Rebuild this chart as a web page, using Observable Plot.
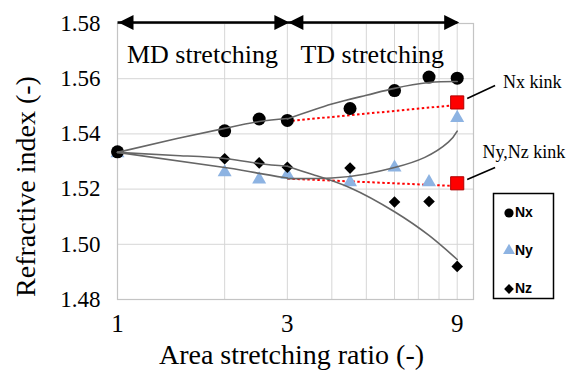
<!DOCTYPE html>
<html><head><meta charset="utf-8">
<script src="https://cdn.jsdelivr.net/npm/d3@7"></script>
<script src="https://cdn.jsdelivr.net/npm/@observablehq/plot@0.6"></script>
<style>body{margin:0;background:#fff}</style>
</head><body><div id="chart"></div>
<script>
// ---- data ----
const ratio = [1, 2, 2.5, 3, 4.5, 6, 7.5, 9];
const nx = [1.5335, 1.5411, 1.5454, 1.5449, 1.5492, 1.5557, 1.5606, 1.5602];
const ny = [1.5330, 1.5261, 1.5235, 1.5252, 1.5225, 1.5278, 1.5225, 1.5458];
const nz = [1.5335, 1.5310, 1.5295, 1.5279, 1.5276, 1.5153, 1.5155, 1.4920];

// trend curves (as drawn): MD part (1–3) and TD part (3–9)
const nxMdX = [1, 1.47, 2, 2.5, 3];
const nxMdY = [1.5333, 1.5383, 1.5420, 1.5445, 1.5456];
const nxTdX = [3, 4, 5, 6, 7.5, 9];
const nxTdY = [1.5454, 1.5508, 1.5540, 1.5565, 1.5586, 1.5590];
const nyMdX = [1, 2, 2.5, 3];
const nyMdY = [1.5333, 1.5278, 1.5257, 1.5240];
const nyTdX = [3, 4, 5, 6, 7.3, 8.5, 9];
const nyTdY = [1.5238, 1.5240, 1.5255, 1.5278, 1.5315, 1.5370, 1.5410];
const nzMdX = [1, 1.5, 2, 2.5, 3];
const nzMdY = [1.5333, 1.5321, 1.5311, 1.5293, 1.5283];
const nzTdX = [3, 3.55, 4.5, 6, 7.5, 9];
const nzTdY = [1.5283, 1.5252, 1.5205, 1.5118, 1.5032, 1.4945];

// kinks
const kinkLabels = ["Nx kink", "Ny,Nz kink"];
const kinkX = [9, 9];
const kinkY = [1.5514, 1.5221];
const kinkFromX = [3, 3];
const kinkFromY = [1.5446, 1.5238];
const kinkToY = [1.5505, 1.5211];
const leaderX1 = [9.6, 9.6], leaderY1 = [1.5528, 1.5235];
const leaderX2 = [11.5, 11.5], leaderY2 = [1.5575, 1.5278];
const kinkLabelX = [12.1, 10.6], kinkLabelY = [1.5589, 1.5334];

// regions
const regionLabels = ["MD stretching", "TD stretching"];
const regionFrom = [1, 3];
const regionTo = [3, 9];
const regionMid = [1.732, 5.196];

// axes
const xTicks = [1, 3, 9];
const xGrid = [2, 3, 4, 5, 6, 7, 8, 9];
const yTicks = [1.48, 1.50, 1.52, 1.54, 1.56, 1.58];
const yGrid = [1.50, 1.52, 1.54, 1.56];
const xLabel = "Area stretching ratio (-)";
const yLabel = "Refractive index (-)";
const legendLabels = ["Nx", "Ny", "Nz"];

// ---- build ----
const serif = "Liberation Serif";
const sans = "Liberation Sans";
const pts = (ys) => ratio.map((x, i) => ({x, y: ys[i]}));
const seg = (xs, ys, s) => xs.map((x, i) => ({x, y: ys[i], s}));
const trends = [
  ...seg(nxMdX, nxMdY, "nxMD"), ...seg(nxTdX, nxTdY, "nxTD"),
  ...seg(nyMdX, nyMdY, "nyMD"), ...seg(nyTdX, nyTdY, "nyTD"),
  ...seg(nzMdX, nzMdY, "nzMD"), ...seg(nzTdX, nzTdY, "nzTD")
];
const kinks = kinkLabels.map((label, i) => ({
  label, x: kinkX[i], y: kinkY[i], fx: kinkFromX[i], fy: kinkFromY[i], ty: kinkToY[i],
  lx1: leaderX1[i], ly1: leaderY1[i], lx2: leaderX2[i], ly2: leaderY2[i],
  tx: kinkLabelX[i], tyl: kinkLabelY[i]
}));
const regions = regionLabels.map((label, i) => ({label, from: regionFrom[i], to: regionTo[i], mid: regionMid[i]}));

const headR = {draw(ctx) { ctx.moveTo(0, 0); ctx.lineTo(-15, -7.5); ctx.lineTo(-15, 7.5); ctx.closePath(); }};
const headL = {draw(ctx) { ctx.moveTo(0, 0); ctx.lineTo(15, -7.5); ctx.lineTo(15, 7.5); ctx.closePath(); }};

const legendSym = ["circle", "triangle", "diamond2"];
const legendFill = ["black", "#8db3e2", "black"];
const legendR = [4.6, 4.4, 4.4];
const legendDy = [189.5, 227, 265.5];

const legendMarks = legendLabels.flatMap((lab, i) => [
  Plot.dot([lab], {frameAnchor: "top-right", dx: 35.5, dy: legendDy[i], symbol: legendSym[i], fill: legendFill[i], r: legendR[i]}),
  Plot.text([lab], {frameAnchor: "top-right", dx: 41.5, dy: legendDy[i], text: d => d, textAnchor: "start", lineAnchor: "middle",
    fontFamily: sans, fontWeight: "bold", fontSize: 14, fill: "black"})
]);

const chart = Plot.plot({
  width: 576, height: 378,
  marginLeft: 117, marginRight: 103, marginTop: 23, marginBottom: 79,
  style: {fontFamily: serif, background: "white", color: "black"},
  x: {type: "log", domain: [1, 10]},
  y: {domain: [1.48, 1.58]},
  marks: [
    Plot.gridX(xGrid, {stroke: "#d6d6d6", strokeOpacity: 1, strokeWidth: 1}),
    Plot.gridY(yGrid, {stroke: "#d6d6d6", strokeOpacity: 1, strokeWidth: 1}),
    Plot.frame({stroke: "#c4c4c4", strokeWidth: 1.2}),
    Plot.axisX({ticks: xTicks, tickFormat: d => String(d), tickSize: 0, tickPadding: 15, fontSize: 25, fontFamily: serif, label: null, fill: "black"}),
    Plot.axisY({ticks: yTicks, tickFormat: d3.format(".2f"), tickSize: 0, tickPadding: 17, fontSize: 23, fontFamily: serif, label: null, fill: "black"}),
    // red dotted kink lines
    Plot.link(kinks, {x1: "fx", y1: "fy", x2: "x", y2: "ty", stroke: "#ff0000", strokeWidth: 2, strokeDasharray: "2.5,2.5"}),
    // data points
    Plot.dot(pts(ny), {x: "x", y: "y", symbol: "triangle", r: 5.2, fill: "#8db3e2"}),
    Plot.dot(pts(nz), {x: "x", y: "y", symbol: "diamond2", r: 5.2, fill: "black"}),
    Plot.dot(pts(nx), {x: "x", y: "y", symbol: "circle", r: 6.5, fill: "black"}),
    // trend curves
    Plot.line(trends, {x: "x", y: "y", z: "s", curve: "natural", stroke: "#666", strokeWidth: 1.6}),
    // kink squares
    Plot.dot(kinks, {x: "x", y: "y", symbol: "square", r: 7.4, fill: "#ff0000", stroke: "#b00000", strokeWidth: 1}),
    // leaders + labels
    Plot.link(kinks, {x1: "lx1", y1: "ly1", x2: "lx2", y2: "ly2", stroke: "black", strokeWidth: 1.6}),
    Plot.text(kinks, {x: "tx", y: "tyl", text: "label", textAnchor: "start", lineAnchor: "middle", fontSize: 18, fontFamily: serif, fill: "black"}),
    // region arrows
    Plot.link(regions, {x1: "from", x2: "to", y1: 1.58, y2: 1.58, dy: -1, stroke: "black", strokeWidth: 2.5}),
    Plot.dot(regions, {x: "from", y: 1.58, dx: 1, dy: -1, symbol: headL, fill: "black"}),
    Plot.dot(regions, {x: "to", y: 1.58, dx: 2, dy: -1, symbol: headR, fill: "black"}),
    Plot.text(regions, {x: "mid", y: 1.5686, text: "label", lineAnchor: "middle", fontSize: 26, fontFamily: serif, fill: "black"}),
    // axis titles
    Plot.text([xLabel], {frameAnchor: "bottom", dx: -4, dy: 56, text: d => d, textAnchor: "middle", lineAnchor: "middle", fontSize: 28, fontFamily: serif, fill: "black"}),
    Plot.text([yLabel], {frameAnchor: "left", dx: -91, dy: 25, rotate: -90, text: d => d, textAnchor: "middle", lineAnchor: "middle", fontSize: 28, fontFamily: serif, fill: "black"}),
    // legend
    Plot.frame({insetLeft: 376, insetRight: -80, insetTop: 170, insetBottom: 1, stroke: "black", strokeWidth: 1.5}),
    ...legendMarks
  ]
});
document.getElementById("chart").append(chart);
</script>
</body></html>
